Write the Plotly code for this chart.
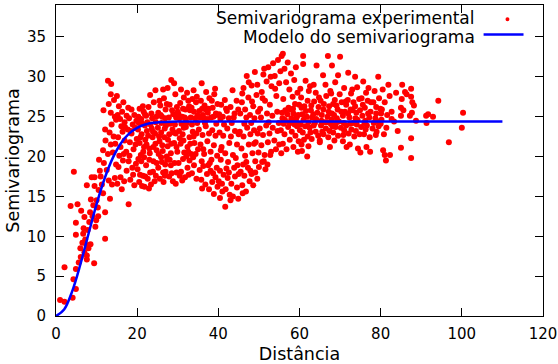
import plotly.graph_objects as go

# Experimental semivariogram cloud (distance, semivariance)
experimental_points = [
    # 0-10
    (1.0,2.0),(2.1,1.8),(2.1,6.1),(4.1,2.3),(4.9,3.4),(4.3,4.6),(4.9,5.9),(3.6,13.8),(4.4,18.1),(4.9,11.7),
    (4.9,10.2),(5.3,14.0),(5.6,6.7),(6.1,7.4),(7.6,7.1),(7.0,8.0),(7.6,7.6),(6.2,13.2),(6.7,10.3),(7.6,16.4),
    (8.2,11.8),(9.7,11.2),(9.4,6.6),(9.5,16.3),(9.5,17.4),(8.8,17.4),(10.0,14.5),(6.5,9.2),(7.2,9.6),(7.8,10.8),
    (8.5,9.0),(8.0,8.5),(9.0,12.5),(8.4,13.0),(7.0,12.4),(6.8,11.0),(8.6,14.6),(9.2,13.9),(7.5,8.9),(9.9,12.0),(6.0,8.5),
    # 10-15
    (10.3,13.6),(10.4,12.5),(10.6,19.6),(11.6,15.4),(11.6,20.8),(12.1,9.7),(12.1,13.0),(13.3,14.7),(12.1,23.4),(11.7,25.8),
    (12.8,29.5),(13.6,29.1),(13.5,27.8),(14.3,27.1),(13.0,26.6),(13.5,25.5),(13.7,24.0),(14.5,25.0),(14.8,24.6),(11.0,17.5),
    (12.5,18.3),(13.0,17.0),(13.8,16.5),(14.5,17.3),(11.8,19.2),(12.8,20.3),(13.5,21.5),(14.2,22.5),(14.8,19.0),(10.8,18.2),
    (12.2,22.0),(13.2,23.0),(14.0,20.5),(14.6,21.6),(11.3,16.5),(10.5,15.8),
    # 15-20
    (15.2,25.2),(15.8,24.7),(16.3,25.6),(16.9,24.3),(17.4,25.1),(18.0,24.8),(18.6,25.9),(19.3,25.2),(19.8,24.5),(15.5,26.3),
    (16.6,26.8),(17.8,26.1),(15.0,27.6),(16.1,23.8),(15.3,22.4),(15.9,21.2),(16.4,23.1),(16.9,22.0),(17.3,20.6),(17.7,23.4),
    (18.2,21.8),(18.6,22.9),(19.1,20.9),(19.5,23.6),(19.9,22.2),(15.6,20.1),(18.9,24.0),(17.0,23.7),(15.4,18.7),(15.9,17.4),
    (16.5,19.5),(16.8,16.9),(17.4,18.2),(17.9,19.4),(18.3,17.1),(18.8,18.6),(19.3,16.4),(19.7,19.1),(16.2,15.9),(17.9,14.0),
    (19.0,17.7),(18.1,20.1),(15.1,16.6),(16.7,20.3),(18.4,23.2),(19.6,21.5),
    # 20-25
    (20.3,25.0),(21.0,24.7),(21.6,25.6),(22.2,25.1),(22.8,26.2),(23.5,25.4),(24.1,26.8),(24.7,25.0),(23.2,27.7),(24.5,28.3),
    (21.4,26.3),(20.6,26.0),(20.2,23.4),(20.6,21.7),(21.1,22.8),(21.5,20.6),(21.9,23.9),(22.3,21.5),(22.7,22.6),(23.1,20.4),
    (23.6,23.5),(24.0,21.2),(24.4,22.9),(24.8,20.8),(20.4,24.2),(21.3,24.1),(22.5,24.3),(23.3,24.0),(24.6,24.3),(20.9,20.2),
    (22.0,22.1),(23.8,22.4),(20.1,18.4),(20.5,16.8),(21.0,19.4),(21.4,17.6),(21.8,16.2),(22.2,18.9),(22.6,17.2),(23.0,19.6),
    (23.4,16.5),(23.9,18.1),(24.3,16.9),(24.8,19.2),(21.7,19.9),(23.2,18.0),(20.7,17.7),(22.9,16.0),(24.6,17.6),(21.2,16.3),
    (20.8,22.4),(21.7,21.2),(22.4,23.2),(23.0,21.0),(23.9,23.1),(24.5,21.6),(21.9,25.3),(23.7,24.8),(22.0,17.5),(24.0,19.4),(20.3,19.7),
    # 25-30
    (25.2,25.5),(25.7,26.4),(26.1,25.0),(26.6,27.3),(27.0,25.9),(27.5,28.6),(28.0,26.5),(28.4,29.6),(28.9,25.3),(29.4,27.8),
    (29.8,26.2),(26.4,28.4),(27.8,24.9),(25.5,27.0),(29.1,29.2),(28.6,25.8),(26.9,24.8),(29.6,24.9),(25.1,23.6),(25.5,21.9),
    (25.9,23.0),(26.3,20.7),(26.7,22.4),(27.1,23.9),(27.5,21.3),(27.9,22.8),(28.3,20.4),(28.7,23.4),(29.1,21.7),(29.5,22.9),
    (29.9,20.6),(26.0,24.2),(27.3,20.0),(28.1,24.1),(29.3,24.0),(25.3,20.3),(25.2,18.6),(25.6,17.2),(26.1,19.3),(26.5,16.8),
    (27.0,18.1),(27.4,19.6),(27.9,17.5),(28.3,18.9),(28.8,16.9),(29.2,19.2),(29.7,18.0),(26.8,17.6),(28.5,17.9),(25.9,19.9),(29.5,16.6),
    (25.4,22.5),(26.2,21.4),(26.8,23.5),(27.6,22.1),(28.4,21.6),(29.0,23.0),(29.7,21.2),(25.8,25.2),(27.3,26.6),(26.4,18.0),
    (28.0,19.6),(26.9,19.0),
    # 30-35
    (30.2,25.3),(30.6,26.7),(31.1,25.0),(31.5,27.4),(31.9,25.9),(32.3,28.0),(32.8,26.3),(33.2,24.9),(33.6,27.2),(34.0,25.6),
    (34.5,26.8),(34.9,25.1),(30.8,28.4),(32.0,24.7),(33.9,28.3),(31.3,26.0),(33.0,25.8),(34.3,24.8),(30.4,24.8),(32.6,27.0),
    (30.3,23.2),(30.7,21.6),(31.2,22.8),(31.6,20.5),(32.0,23.7),(32.4,21.2),(32.9,22.4),(33.3,20.3),(33.7,23.1),(34.1,21.7),
    (34.6,22.9),(35.0,20.9),(30.9,24.1),(32.2,24.2),(33.5,24.0),(34.8,24.2),(31.4,22.0),(33.1,21.6),(30.2,19.2),(30.8,18.1),
    (31.3,19.7),(31.8,17.4),(32.4,18.6),(32.9,19.5),(33.5,17.9),(34.0,18.9),(34.6,17.2),(31.1,17.0),(33.8,19.9),(32.1,20.0),
    (30.5,22.3),(31.5,23.6),(32.6,20.6),(33.9,22.5),(34.4,20.3),(30.0,25.6),(31.7,24.9),(33.4,26.1),(34.7,27.5),(30.5,17.6),(32.7,17.7),
    # 35-40
    (35.3,25.7),(35.7,27.0),(35.9,29.2),(36.2,25.2),(36.6,26.4),(37.0,28.1),(37.4,25.5),(37.8,27.3),(38.2,24.9),(38.6,26.1),
    (39.0,27.8),(39.4,25.4),(39.8,26.6),(36.4,24.8),(37.6,26.0),(38.8,25.0),(35.5,24.9),(39.2,28.5),(36.9,25.9),(35.2,23.4),
    (35.6,21.5),(36.1,22.7),(36.5,20.3),(36.9,23.8),(37.3,21.9),(37.7,22.9),(38.1,20.6),(38.5,23.3),(38.9,21.4),(39.3,22.6),
    (39.7,20.1),(35.9,19.4),(37.9,19.2),(39.5,24.1),(36.7,24.2),(35.4,18.3),(35.8,17.1),(36.3,18.8),(36.8,16.5),(37.2,17.8),
    (37.7,15.9),(38.1,18.2),(38.5,16.8),(38.9,15.3),(39.3,17.4),(39.8,16.2),(36.0,16.0),(37.5,18.9),(38.7,17.9),(39.6,18.6),
    (36.0,26.0),(37.2,24.7),(38.4,27.0),(39.6,25.2),(36.3,20.9),(38.3,19.6),
    # 40-45
    (40.2,25.3),(40.7,26.5),(41.1,25.0),(41.6,27.1),(42.1,25.7),(42.6,24.8),(43.0,26.2),(43.5,28.3),(44.0,25.4),(44.5,27.0),
    (44.9,25.9),(41.9,26.0),(40.5,24.7),(43.8,24.9),(40.3,23.0),(40.8,21.2),(41.2,22.6),(41.7,20.4),(42.2,23.5),(42.7,21.7),
    (43.1,22.5),(43.6,20.2),(44.1,23.2),(44.6,21.5),(45.0,22.8),(40.6,19.6),(42.4,19.3),(44.3,19.8),(41.4,24.0),(43.3,24.2),
    (40.4,18.2),(40.9,16.6),(41.3,17.7),(40.4,14.8),(41.7,13.7),(41.8,15.9),(42.3,17.3),(42.8,15.2),(43.2,16.6),(43.6,15.0),
    (44.1,17.5),(44.6,16.1),(44.9,14.7),(42.0,18.5),(43.9,18.6),(40.1,16.9),(45.0,17.8),(40.6,20.8),(42.6,18.0),(44.7,18.9),
    (41.0,15.6),(43.0,14.5),
    # 45-50
    (45.4,25.4),(45.8,26.8),(46.2,28.6),(46.6,25.9),(47.0,30.1),(47.4,27.4),(47.8,25.2),(48.2,28.9),(48.6,26.3),(49.0,30.6),
    (49.4,27.7),(49.8,25.6),(46.9,24.9),(48.9,24.8),(47.5,29.3),(49.6,29.0),(45.9,27.9),(48.3,26.9),(45.3,23.1),(45.7,21.0),
    (46.2,22.5),(46.6,20.1),(47.1,23.6),(47.5,21.5),(47.9,22.8),(48.4,20.4),(48.8,23.3),(49.2,21.8),(49.7,22.9),(46.4,24.1),
    (48.1,24.2),(49.9,20.5),(46.9,19.3),(49.1,19.4),(45.5,18.1),(45.9,16.4),(46.4,17.6),(46.8,15.6),(47.3,18.6),(47.7,16.9),
    (48.2,17.8),(48.6,16.4),(49.1,18.0),(49.6,17.2),(50.0,18.7),(46.1,19.0),(47.9,18.2),(48.8,21.6),(46.0,15.4),
    # 50-55
    (50.3,26.0),(50.7,28.1),(51.1,30.3),(51.5,27.0),(51.9,29.4),(52.3,31.2),(52.7,26.5),(53.1,28.8),(53.5,31.7),(53.9,30.1),
    (54.3,27.6),(54.7,32.1),(55.0,29.2),(50.5,24.9),(52.0,25.4),(53.3,25.1),(54.5,25.6),(51.3,31.0),(52.9,30.0),(54.0,28.5),
    (55.3,30.7),(50.9,27.3),(50.2,23.5),(50.6,21.4),(51.0,22.7),(51.4,20.2),(51.8,23.9),(52.2,21.8),(52.6,22.9),(53.0,20.6),
    (53.4,23.6),(53.8,22.0),(54.2,20.9),(54.6,23.2),(55.0,21.5),(51.2,19.4),(52.8,20.2),(54.9,24.2),(52.4,24.3),(50.8,19.3),
    (51.6,18.4),(52.1,19.0),
    # 55-60
    (55.6,32.6),(55.9,32.9),(56.3,31.0),(56.7,29.3),(57.1,31.8),(57.5,28.4),(57.9,30.4),(58.3,27.5),(58.7,29.6),(59.1,31.2),
    (59.5,28.0),(59.9,26.5),(56.0,27.2),(57.3,26.1),(58.5,25.4),(59.7,25.2),(56.5,25.8),(58.0,24.8),(59.3,24.9),(55.8,24.8),
    (57.7,25.9),(58.9,26.6),(55.4,23.3),(55.9,21.6),(56.3,22.8),(56.8,20.9),(57.2,23.7),(57.6,22.1),(58.1,23.1),(58.5,21.2),
    (59.0,22.6),(59.4,23.8),(59.8,21.9),(56.1,24.1),(57.4,24.3),(58.8,24.0),(55.5,20.4),(59.6,20.6),
    (55.7,25.5),(56.4,24.6),(57.0,25.3),(57.8,24.2),(58.4,26.0),(59.1,24.5),(59.8,24.0),
    # 60-65
    (60.9,32.6),(60.9,31.6),(64.2,31.4),(61.5,29.5),(62.3,28.2),(63.5,29.0),(60.4,27.4),(61.2,26.3),(62.0,27.0),(62.8,25.8),
    (63.6,26.9),(64.4,25.5),(60.7,25.3),(61.8,25.0),(63.1,24.9),(64.8,27.4),(62.6,28.8),(64.0,28.0),(60.2,28.5),(60.3,24.0),
    (60.8,23.0),(61.4,23.8),(62.0,22.5),(62.5,23.6),(63.0,22.2),(63.5,23.9),(64.0,23.1),(64.6,22.6),(61.1,22.1),(63.8,24.2),
    (65.0,22.0),(60.5,21.5),(62.2,21.3),(60.6,20.7),(61.9,20.0),
    (60.5,26.1),(61.0,24.6),(61.6,25.7),(62.2,24.3),(62.9,26.4),(63.4,25.3),(64.1,24.7),(64.7,26.2),(60.1,23.3),(62.7,23.0),
    # 65-70
    (67.0,32.6),(65.8,30.2),(68.0,31.4),(69.5,30.2),(66.4,29.0),(67.6,28.2),(68.8,29.3),(65.2,27.0),(65.9,25.9),(66.6,27.6),
    (67.3,26.3),(68.0,25.4),(68.7,27.1),(69.4,25.9),(69.9,27.8),(65.5,25.2),(66.9,25.0),(68.3,26.6),(69.2,24.8),(67.8,27.9),
    (65.3,23.9),(65.9,22.8),(66.5,23.5),(67.1,22.4),(67.7,24.1),(68.3,23.0),(68.9,23.7),(69.5,22.6),(66.2,24.3),(67.4,23.2),
    (69.0,24.2),(67.5,21.2),(65.0,21.8),(68.6,22.0),
    (65.4,24.5),(66.0,26.6),(66.7,24.3),(67.2,25.6),(67.9,24.6),(68.5,25.2),(69.1,26.4),(69.7,24.4),(65.6,23.1),(68.1,23.8),
    # 70-75
    (70.0,32.5),(72.0,30.5),(73.7,30.0),(71.0,28.6),(72.7,27.9),(74.2,28.7),(70.4,26.8),(71.2,25.6),(71.9,27.1),(72.6,25.9),
    (73.3,26.8),(74.0,25.5),(74.7,27.2),(70.7,25.1),(72.3,24.9),(73.8,24.8),(73.0,28.4),(71.5,26.5),(70.2,23.6),(70.8,22.7),
    (71.5,23.9),(72.1,22.9),(72.8,23.4),(73.5,22.5),(74.1,24.0),(74.8,22.8),(71.6,21.2),(72.4,21.5),(70.7,21.9),(74.4,21.0),(73.2,24.2),
    (70.3,25.6),(70.9,24.2),(71.4,26.9),(72.0,25.4),(72.5,24.1),(73.1,25.8),(73.7,26.3),(74.3,24.6),(74.9,25.8),(71.0,23.3),(73.9,23.2),
    # 75-80
    (79.4,30.0),(75.7,29.4),(77.0,28.6),(78.5,28.2),(75.3,27.3),(76.1,26.1),(76.8,27.0),(77.5,25.6),(78.2,26.8),(78.9,25.4),
    (79.6,27.3),(75.5,25.1),(77.2,24.9),(78.7,24.8),(76.4,28.0),(79.9,26.0),(75.2,23.7),(75.9,22.8),(76.6,23.9),(77.3,22.4),
    (78.0,23.5),(78.8,22.7),(79.5,23.8),(75.0,20.5),(76.5,21.2),(77.4,20.6),(80.0,24.1),(76.0,24.2),
    (75.6,26.5),(76.2,24.5),(76.9,25.4),(77.6,26.8),(78.3,24.2),(78.9,26.2),(79.4,24.4),(80.1,25.4),(76.3,23.4),(79.0,23.1),
    # 80-85
    (80.6,20.8),(81.0,20.2),(81.3,19.5),(82.3,20.2),(80.3,25.9),(81.0,26.8),(81.6,25.2),(82.2,27.6),(82.7,25.6),(82.7,24.7),
    (81.4,23.6),(80.8,22.8),(83.8,28.0),(83.3,24.4),(84.2,23.2),(80.5,28.4),(81.9,29.0),(80.2,24.6),
    # 85-100
    (85.3,29.0),(86.0,28.1),(87.5,28.5),(85.2,27.2),(87.5,27.5),(88.2,26.4),(85.0,26.1),(87.7,25.5),(85.0,25.1),(87.2,25.1),
    (91.2,25.1),(92.9,25.0),(100.3,25.5),(88.7,24.5),(91.3,24.2),(100.0,23.6),(87.5,22.3),(96.8,21.8),(85.0,21.1),(87.5,19.8),
    (94.2,27.0),(86.4,27.8),(87.8,26.8),(85.6,25.8),(91.7,25.3),
]
exp_dist = [p[0] for p in experimental_points]
exp_gamma = [p[1] for p in experimental_points]

# Fitted model curve
model_dist = [0, 2, 4, 6, 8, 10, 12, 14, 16, 18, 20, 22, 24, 26, 28, 30, 40, 60, 80, 110]
model_gamma = [0.0, 0.82, 3.12, 6.46, 10.28, 14.02, 17.27, 19.83, 21.67, 22.87, 23.60, 24.01,
               24.22, 24.32, 24.37, 24.39, 24.40, 24.40, 24.40, 24.40]

x_ticks = [0, 20, 40, 60, 80, 100, 120]
y_ticks = [0, 5, 10, 15, 20, 25, 30, 35]

FONT = "DejaVu Sans"

fig = go.Figure()
fig.add_trace(go.Scatter(
    x=exp_dist, y=exp_gamma, mode="markers",
    marker=dict(color="#ff0000", size=6, line=dict(width=0)),
    name="Semivariograma experimental", showlegend=False,
))
fig.add_trace(go.Scatter(
    x=model_dist, y=model_gamma, mode="lines", line_shape="spline",
    line=dict(color="#0000ff", width=2.5),
    name="Modelo do semivariograma", showlegend=False,
))

axis_common = dict(
    showline=True, linecolor="black", linewidth=1, mirror="ticks",
    ticks="inside", ticklen=8, tickwidth=1, tickcolor="black",
    showgrid=False, zeroline=False,
    tickfont=dict(family=FONT, size=15, color="black"),
)
fig.update_xaxes(range=[0, 120], tickvals=x_ticks, ticklabelstandoff=4,
                 title=dict(text="Distância", font=dict(family=FONT, size=17.5, color="black"), standoff=6),
                 **axis_common)
fig.update_yaxes(range=[0, 39], tickvals=y_ticks, ticklabelstandoff=6,
                 title=dict(text="Semivariograma", font=dict(family=FONT, size=17.5, color="black"), standoff=2),
                 **axis_common)

# gnuplot-style key (text right-aligned, sample on the right)
fig.add_annotation(xref="paper", yref="paper", x=0.863, y=0.958, xanchor="right", yanchor="middle",
                   text="Semivariograma experimental", showarrow=False, borderpad=0,
                   font=dict(family=FONT, size=17, color="black"))
fig.add_annotation(xref="paper", yref="paper", x=0.863, y=0.897, xanchor="right", yanchor="middle",
                   text="Modelo do semivariograma", showarrow=False, borderpad=0,
                   font=dict(family=FONT, size=17, color="black"))
fig.add_shape(type="circle", xref="paper", yref="paper", x0=0.923, x1=0.931, y0=0.948, y1=0.961,
              fillcolor="#ff0000", line=dict(width=0))
fig.add_shape(type="line", xref="paper", yref="paper", x0=0.878, x1=0.96, y0=0.905, y1=0.905,
              line=dict(color="#0000ff", width=2.5))

fig.update_layout(
    width=558, height=364,
    margin=dict(l=56, r=15, t=5, b=48, autoexpand=False),
    paper_bgcolor="white", plot_bgcolor="white",
    font=dict(family=FONT, color="black"),
)

fig.write_html("out.html")
